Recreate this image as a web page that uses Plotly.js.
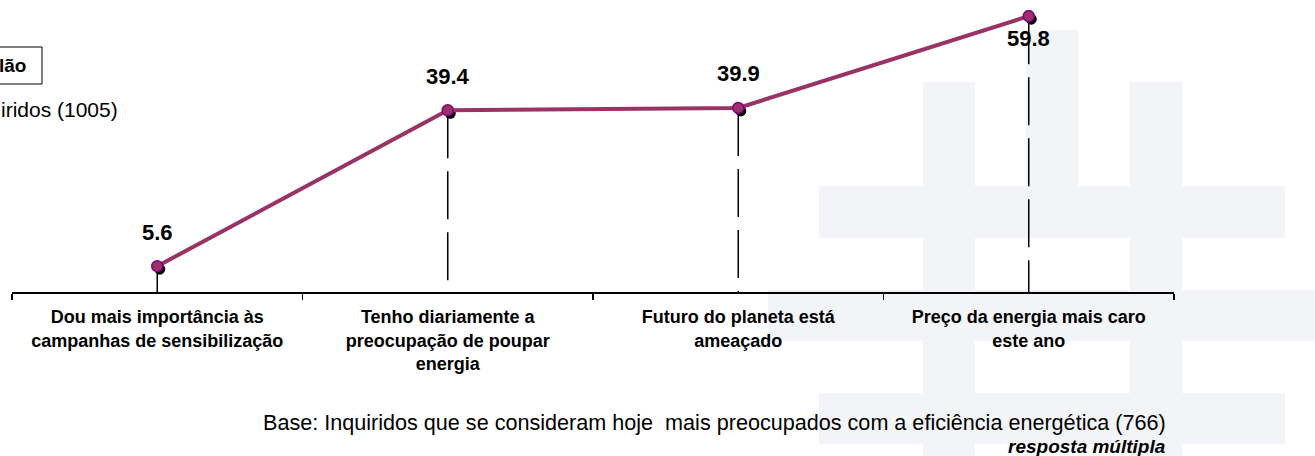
<!DOCTYPE html>
<html><head><meta charset="utf-8">
<script src="https://cdn.plot.ly/plotly-3.0.1.min.js"></script>
<style>html,body{margin:0;padding:0;background:#fff;overflow:hidden}#chart{width:1315px;height:456px}</style>
</head><body><div id="chart"></div>
<script>
// ---- data ----
const categories = [
  'Dou mais importância às<br>campanhas de sensibilização',
  'Tenho diariamente a<br>preocupação de poupar<br>energia',
  'Futuro do planeta está<br>ameaçado',
  'Preço da energia mais caro<br>este ano'
];
const values = [5.6, 39.4, 39.9, 59.8];
const labelShift = [34, 34, 34, -22];
const baseText = 'Base: Inquiridos que se consideram hoje  mais preocupados com a eficiência energética (766)';
const noteText = 'resposta múltipla';
const titleText = 'lão';
const subText = 'iridos (1005)';

// ---- layout geometry (pixels) ----
const W = 1315, H = 456;
const M = {l: 12, r: 141, t: 10, b: 164};
const PW = W - M.l - M.r, PH = H - M.t - M.b;
const px = v => (v - M.l) / PW;
const py = v => (H - M.b - v) / PH;
const FONT = 'Arial, "Liberation Sans", sans-serif';

const wm = '#f3f4f8';
const wmRects = [
  [1026, 30, 1078, 186], [923, 82, 975, 456], [1130, 82, 1182, 456],
  [819, 186, 1285, 238], [768, 290, 1315, 341], [819, 393, 1285, 444]
];
const shapes = wmRects.map(r => ({
  type: 'rect', xref: 'paper', yref: 'paper', layer: 'below',
  x0: px(r[0]), x1: px(r[2]), y0: py(r[3]), y1: py(r[1]),
  fillcolor: wm, line: {width: 0}
}));
values.forEach((v, i) => shapes.push({
  type: 'line', xref: 'x', yref: 'y', layer: 'below',
  x0: i, x1: i, y0: v, y1: 0,
  line: {color: '#000', width: 1.5, dash: '48px,13px'}
}));
// title box (partly cut off at left)
shapes.push({type: 'rect', xref: 'paper', yref: 'paper', layer: 'above',
  x0: px(-20), x1: px(42), y0: py(84), y1: py(47),
  fillcolor: 'rgba(0,0,0,0)', line: {color: '#000', width: 1}});

const annotations = values.map((v, i) => ({
  x: i, y: v, xref: 'x', yref: 'y', text: v.toFixed(1), showarrow: false,
  yanchor: 'middle', xanchor: 'center', yshift: labelShift[i],
  font: {family: FONT, size: 22, color: '#000', weight: 'bold'}
}));
annotations.push(
  {xref: 'paper', yref: 'paper', x: px(28), y: py(66), xanchor: 'right', yanchor: 'middle',
   text: titleText, showarrow: false, font: {family: FONT, size: 19, color: '#000', weight: 'bold'}},
  {xref: 'paper', yref: 'paper', x: px(120), y: py(110), xanchor: 'right', yanchor: 'middle',
   text: subText, showarrow: false, font: {family: FONT, size: 21, color: '#000'}},
  {xref: 'paper', yref: 'paper', x: px(1168), y: py(422), xanchor: 'right', yanchor: 'middle',
   text: baseText, showarrow: false, font: {family: FONT, size: 21.6, color: '#000'}},
  {xref: 'paper', yref: 'paper', x: px(1168), y: py(446), xanchor: 'right', yanchor: 'middle',
   text: '<i>' + noteText + '</i>', showarrow: false, font: {family: FONT, size: 19, color: '#000', weight: 'bold'}}
);

const traces = [
  {x: categories, y: values, type: 'scatter', mode: 'markers', hoverinfo: 'skip',
   marker: {size: 11, color: '#000'}},
  {x: categories, y: values, type: 'scatter', mode: 'lines+markers', hoverinfo: 'skip',
   line: {color: '#993366', width: 4},
   marker: {size: 11, color: '#993366', line: {color: '#800080', width: 1.5}}}
];

const layout = {
  width: W, height: H, margin: M, showlegend: false,
  paper_bgcolor: '#fff', plot_bgcolor: 'rgba(0,0,0,0)',
  xaxis: {type: 'category', range: [-0.5, 3.5], tickson: 'boundaries',
    ticks: 'outside', ticklen: 6, tickwidth: 1.5, tickcolor: '#000', ticklabelstandoff: 8,
    showline: true, linecolor: '#000', linewidth: 1.5, showgrid: false, zeroline: false,
    tickfont: {family: FONT, size: 18, color: '#000', weight: 'bold'}, fixedrange: true},
  yaxis: {range: [0, PH / 4.613], visible: false, fixedrange: true},
  shapes: shapes, annotations: annotations
};

Plotly.newPlot('chart', traces, layout, {staticPlot: true, displayModeBar: false}).then(gd => {
  const tr = gd.querySelectorAll('.scatterlayer .trace');
  if (tr.length) tr[0].setAttribute('transform', 'translate(2.5,3)');
});
</script></body></html>
